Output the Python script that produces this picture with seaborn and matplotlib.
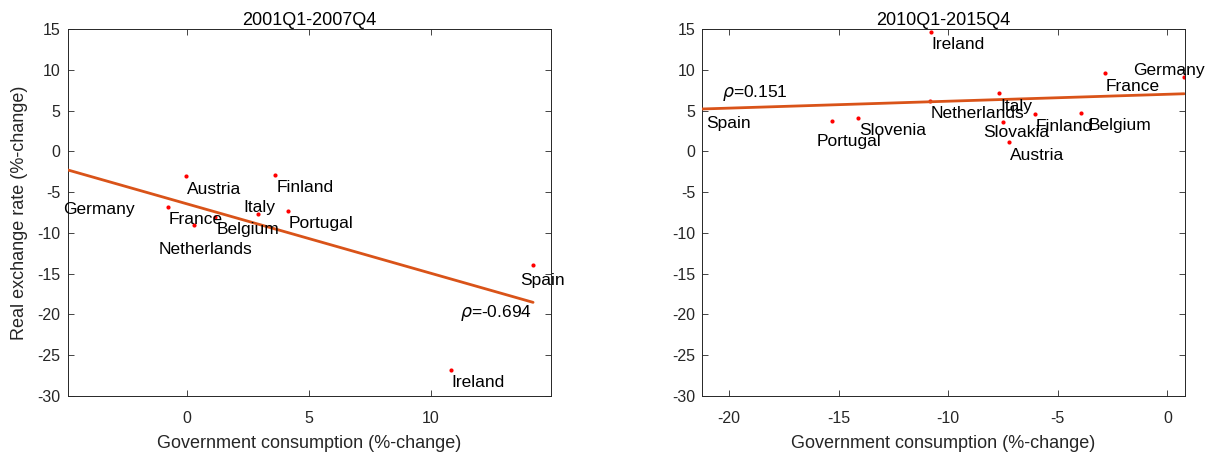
import matplotlib
matplotlib.use("Agg")
import matplotlib.pyplot as plt
import seaborn as sns
import pandas as pd

# Government consumption vs. real exchange rate, % change over each period
# 2001Q1-2007Q4
countries_0107 = ["Germany", "Austria", "Finland", "France", "Netherlands",
                  "Belgium", "Italy", "Portugal", "Spain", "Ireland"]
gov_0107 = [-5.12, -0.04, 3.63, -0.78, 0.31, 1.17, 2.93, 4.14, 14.20, 10.82]
rer_0107 = [-5.48, -3.03, -2.87, -6.79, -9.04, -8.02, -7.72, -7.28, -13.94, -26.78]
rho_0107 = "-0.694"

# 2010Q1-2015Q4
countries_1015 = ["Spain", "Ireland", "Netherlands", "Portugal", "Slovenia", "Italy",
                  "Slovakia", "Finland", "Austria", "France", "Belgium", "Germany"]
gov_1015 = [-21.35, -10.80, -10.84, -15.32, -14.13, -7.68, -7.49, -6.05, -7.21,
            -2.86, -3.94, 0.77]
rer_1015 = [6.32, 14.66, 6.20, 3.74, 4.14, 7.11, 3.63, 4.61, 1.10, 9.56, 4.70, 9.07]
rho_1015 = "0.151"

yticks = [15, 10, 5, 0, -5, -10, -15, -20, -25, -30]
xticks_0107 = [0, 5, 10]
xticks_1015 = [-20, -15, -10, -5, 0]

sns.set_theme(style="white")
plt.rcParams["font.family"] = ["Liberation Sans", "DejaVu Sans"]
plt.rcParams["mathtext.fontset"] = "dejavusans"
plt.rcParams["axes.unicode_minus"] = False

AX_COLOR = "#262626"
LINE_COLOR = "#D95319"

# label offsets in points (default: just right of and below the marker)
DEFAULT_OFF = (0.7, -9.4)
offsets_0107 = {"Italy": (-10.3, 5.0), "Netherlands": (-25.9, -17.5),
                "Spain": (-9.6, -10.8)}
offsets_1015 = {"Portugal": (-10.8, -15.1), "Slovakia": (-14.4, -7.9),
                "Belgium": (5.3, -9.1), "Germany": (-36.9, 4.8),
                "Spain": (4.5, -16.9)}

fig = plt.figure(figsize=(12.15, 4.57), dpi=100)
ax1 = fig.add_axes([0.0557, 0.1335, 0.3975, 0.8031])
ax2 = fig.add_axes([0.5780, 0.1335, 0.3970, 0.8031])


def panel(ax, countries, gov, rer, offsets, title, xlim, xticks):
    df = pd.DataFrame({"country": countries, "gov": gov, "rer": rer})
    sns.scatterplot(data=df, x="gov", y="rer", ax=ax, color="red", s=9,
                    linewidth=0, zorder=2)
    sns.regplot(data=df, x="gov", y="rer", ax=ax, scatter=False, ci=None,
                truncate=True, color=LINE_COLOR, line_kws={"lw": 2.0, "zorder": 3})
    for name, x, y in zip(countries, gov, rer):
        dx, dy = offsets.get(name, DEFAULT_OFF)
        ax.annotate(name, (x, y), xytext=(dx, dy), textcoords="offset points",
                    ha="left", va="center", fontsize=12.5, color="black",
                    annotation_clip=False, zorder=4)
    ax.set_xlim(*xlim)
    ax.set_ylim(-30, 15)
    ax.set_xticks(xticks)
    ax.set_yticks(yticks)
    ax.set_title(title, fontsize=13, pad=3, color="black")
    ax.set_xlabel("Government consumption (%-change)", fontsize=13,
                  color=AX_COLOR, labelpad=6)
    ax.set_ylabel("")
    ax.tick_params(direction="in", length=4, width=0.6, colors=AX_COLOR,
                   labelsize=11.5, top=True, right=True, bottom=True, left=True,
                   labeltop=False, labelright=False)
    ax.tick_params(axis="x", pad=11)
    ax.tick_params(axis="y", pad=5)
    for sp in ax.spines.values():
        sp.set_visible(True)
        sp.set_color(AX_COLOR)
        sp.set_linewidth(0.7)


panel(ax1, countries_0107, gov_0107, rer_0107, offsets_0107,
      "2001Q1-2007Q4", (-4.88, 14.92), xticks_0107)
panel(ax2, countries_1015, gov_1015, rer_1015, offsets_1015,
      "2010Q1-2015Q4", (-21.23, 0.79), xticks_1015)

ax1.set_ylabel("Real exchange rate (%-change)", fontsize=13, color=AX_COLOR,
               labelpad=7)

ax1.text(14.15, -19.85, r"$\rho$=" + rho_0107, ha="right", va="center",
         fontsize=12.5, color="black")
ax2.text(-20.35, 7.11, r"$\rho$=" + rho_1015, ha="left", va="center",
         fontsize=12.5, color="black")

fig.savefig("out.png", dpi=100, facecolor="white")
